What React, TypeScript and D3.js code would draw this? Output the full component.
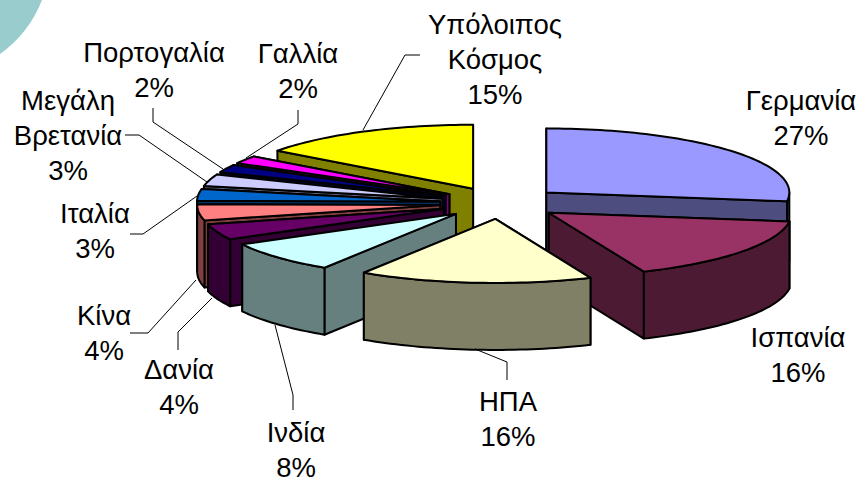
import React, { useEffect, useRef } from "react";
import * as d3 from "d3";

const categories = ["Γερμανία", "Ισπανία", "ΗΠΑ", "Ινδία", "Δανία", "Κίνα", "Ιταλία", "Μεγάλη Βρετανία", "Πορτογαλία", "Γαλλία", "Υπόλοιπος Κόσμος"];
const shares = [27.2, 16.4, 15.5, 8, 4, 4, 3, 3, 2, 2, 14.9];
const topColors = ["#9999FF", "#993366", "#FFFFCC", "#CCFFFF", "#660066", "#FF8080", "#0066CC", "#CCCCFF", "#000080", "#FF00FF", "#FFFF00"];
const sideColors = ["#4D4D80", "#4D1A33", "#808066", "#668080", "#330033", "#804040", "#003366", "#666680", "#000040", "#800080", "#808000"];

// back to front
const drawOrder = [10, 9, 8, 7, 6, 5, 4, 3, 0, 1, 2];

// label centre x, first line y, then the leader line (if any)
const labelLayout: { x: number; y: number; leader: [number, number][] }[] = [
	{ x: 801, y: 100, leader: [] },
	{ x: 798, y: 337, leader: [] },
	{ x: 508, y: 401, leader: [[475, 349], [507, 362], [507, 380]] },
	{ x: 296, y: 432, leader: [[275, 325], [293, 395], [293, 410]] },
	{ x: 179, y: 369, leader: [[212, 298], [178, 332], [178, 350]] },
	{ x: 104, y: 315, leader: [[196, 280], [148, 333], [130, 333]] },
	{ x: 95, y: 213, leader: [[197, 196], [143, 234], [130, 234]] },
	{ x: 68, y: 100, leader: [[207, 182], [139, 135], [125, 135]] },
	{ x: 154, y: 52, leader: [[223, 169], [153, 122], [153, 108]] },
	{ x: 298, y: 53, leader: [[246, 158], [298, 124], [298, 110]] },
	{ x: 495, y: 24, leader: [[363, 130], [405, 55], [420, 55]] },
];

const cx = 500.5;
const cy = 203;
const rx = 243;
const ry = 64;
const depth = 67;
const explode = 0.25;
const lineGap = 35;

export default function App() {
	const ref = useRef<SVGSVGElement>(null);

	useEffect(() => {
		const svg = d3.select(ref.current);
		svg.selectAll("*").remove();

		svg.append("path").attr("d", "M0,0 L42,0 A 120 120 0 0 1 0,54 Z").attr("fill", "#99CCCC");

		const arcs = d3.pie<number>().sort(null)(shares);
		const xScale = d3.scaleLinear().domain([-1, 1]).range([cx - rx, cx + rx]);
		const yScale = d3.scaleLinear().domain([-1, 1]).range([cy - ry, cy + ry]);

		const line = d3.line().curve(d3.curveLinear);

		drawOrder.forEach((i) => {
			const a = arcs[i];
			const mid = (a.startAngle + a.endAngle) / 2;
			const ox = explode * Math.sin(mid);
			const oy = -explode * Math.cos(mid);
			const apex = (z: number): [number, number] => [xScale(ox), yScale(oy) + z];
			const rim = (t: number, z: number): [number, number] => [
				xScale(ox + Math.sin(t)),
				yScale(oy - Math.cos(t)) + z,
			];
			const steps = (from: number, to: number) => {
				const n = Math.max(2, Math.ceil((to - from) * 40));
				return d3.range(n + 1).map((k) => from + ((to - from) * k) / n);
			};

			const g = svg
				.append("g")
				.attr("stroke", "#000")
				.attr("stroke-width", 2)
				.attr("stroke-linejoin", "round");

			// radial walls, the one facing the viewer goes last
			const walls = mid > Math.PI ? [a.endAngle, a.startAngle] : [a.startAngle, a.endAngle];
			walls.forEach((t) => {
				g.append("path")
					.attr("d", line([apex(0), rim(t, 0), rim(t, depth), apex(depth)]) + "Z")
					.attr("fill", sideColors[i]);
			});

			// outer wall, only the part that faces the viewer
			const from = Math.max(a.startAngle, Math.PI / 2);
			const to = Math.min(a.endAngle, (3 * Math.PI) / 2);
			if (to > from) {
				const ts = steps(from, to);
				g.append("path")
					.attr("d", line([...ts.map((t) => rim(t, 0)), ...ts.slice().reverse().map((t) => rim(t, depth))]) + "Z")
					.attr("fill", sideColors[i]);
			}

			g.append("path")
				.attr("d", line([apex(0), ...steps(a.startAngle, a.endAngle).map((t) => rim(t, 0))]) + "Z")
				.attr("fill", topColors[i]);
		});

		const labels = svg
			.append("g")
			.attr("font-family", "'Liberation Sans', Arial, sans-serif")
			.attr("font-size", 27.5)
			.attr("fill", "#000")
			.attr("text-anchor", "middle");

		categories.forEach((name, i) => {
			const pos = labelLayout[i];
			const rows = [...name.split(" "), `${Math.round(shares[i])}%`];
			rows.forEach((row, k) => {
				labels
					.append("text")
					.attr("x", pos.x)
					.attr("y", pos.y + k * lineGap)
					.attr("dy", "0.35em")
					.text(row);
			});
			if (pos.leader.length) {
				svg.append("path")
					.attr("d", line(pos.leader))
					.attr("fill", "none")
					.attr("stroke", "#000")
					.attr("stroke-width", 1);
			}
		});
	}, []);

	return (
		<svg
			ref={ref}
			width={860}
			height={478}
			style={{ position: "absolute", left: 0, top: 0, display: "block", background: "#fff" }}
		/>
	);
}
